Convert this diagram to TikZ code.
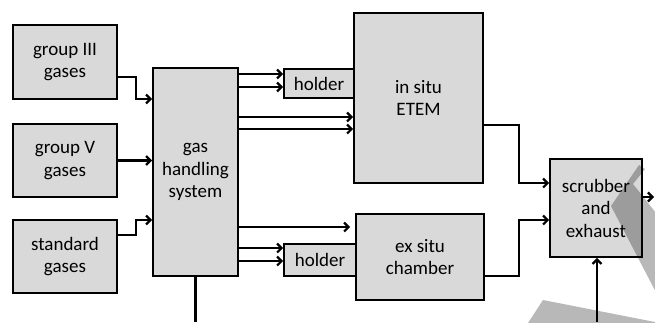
\documentclass[tikz,border=0pt]{standalone}
\usepackage{fontspec}
\setmainfont{Carlito}
\usetikzlibrary{arrows.meta}
\definecolor{boxfill}{HTML}{D9D9D9}
\tikzset{
  blk/.style={draw=black, line width=1.8pt, fill=boxfill, align=center,
    inner sep=0pt, font=\fontsize{19}{22.5}\selectfont},
  flow/.style={line width=2.2pt, -{Straight Barb[length=4.5pt,width=9pt]}},
  pipe/.style={line width=2.2pt},
  shade/.style={fill=black, fill opacity=0.28}
}
\begin{document}
\begin{tikzpicture}[x=1pt,y=-1pt]
\useasboundingbox (0,0) rectangle (655,322);

% gas sources
\node[blk, minimum width=104pt, minimum height=74pt] (g3) at (65,62) {group III\\gases};
\node[blk, minimum width=104pt, minimum height=73pt] (g5) at (65,160.5) {group V\\gases};
\node[blk, minimum width=104pt, minimum height=73pt] (gs) at (65,256.5) {standard\\gases};

% gas handling
\node[blk, minimum width=85pt, minimum height=208pt] (ghs) at (195.5,172) {gas\\handling\\system};

% microscopes and holders
\node[blk, minimum width=129pt, minimum height=170pt] (etem) at (418.5,98) {in situ\\ETEM};
\node[blk, minimum width=70pt, minimum height=29pt] (h1) at (319,83.5) {holder};
\node[blk, minimum width=128pt, minimum height=86pt] (exs) at (420,257) {ex situ\\chamber};
\node[blk, minimum width=72pt, minimum height=32pt] (h2) at (320,260) {holder};

% exhaust
\node[blk, minimum width=92pt, minimum height=98pt] (scr) at (596,208) {scrubber\\and\\exhaust};

% free ends at the picture edges
\coordinate (gasin) at (195.5,322);
\coordinate (exin) at (597,322);
\coordinate (exout) at (654,197);

% sources into gas handling
\draw[flow] ([yshift=-15pt]g3.east) -- ++(18,0) |- ([yshift=73pt]ghs.west);
\draw[flow] (g5.east) -- (g5.east -| ghs.west);
\draw[flow] ([yshift=21.5pt]gs.east) -- ++(18,0) |- ([yshift=-48pt]ghs.west);
\draw[pipe] (ghs.south) -- (gasin);

% gas handling outputs
\coordinate (o1) at ([yshift=98pt]ghs.east);
\coordinate (o2) at ([yshift=85pt]ghs.east);
\coordinate (o3) at ([yshift=55pt]ghs.east);
\coordinate (o4) at ([yshift=43pt]ghs.east);
\coordinate (o5) at ([yshift=-55pt]ghs.east);
\coordinate (o6) at ([yshift=-76pt]ghs.east);
\coordinate (o7) at ([yshift=-89pt]ghs.east);
\draw[flow] (o1) -- (o1 -| h1.west);
\draw[flow] (o2) -- (o2 -| h1.west);
\draw[flow] (o3) -- (o3 -| etem.west);
\draw[flow] (o4) -- (o4 -| etem.west);
\draw[flow, shorten >=5pt] (o5) -- (o5 -| exs.west);
\draw[flow] (o6) -- (o6 -| h2.west);
\draw[flow] (o7) -- (o7 -| h2.west);

% to the scrubber
\draw[flow] ([yshift=-27pt]etem.east) -- ++(35,0) |- ([yshift=25pt]scr.west);
\draw[flow] ([yshift=-19pt]exs.east) -- ++(34,0) |- ([yshift=-12pt]scr.west);
\draw[flow] (scr.east |- exout) -- (exout);
\draw[flow] (exin) -- (exin |- scr.south);

% faint arrow mark
\fill[shade] (611,206) -- (639,165) -- (645,169) -- (633,184) -- (660,218)
  -- (660,300) -- cycle;
\fill[shade] (528,323) -- (543,300) -- (660,323) -- cycle;
\end{tikzpicture}
\end{document}
